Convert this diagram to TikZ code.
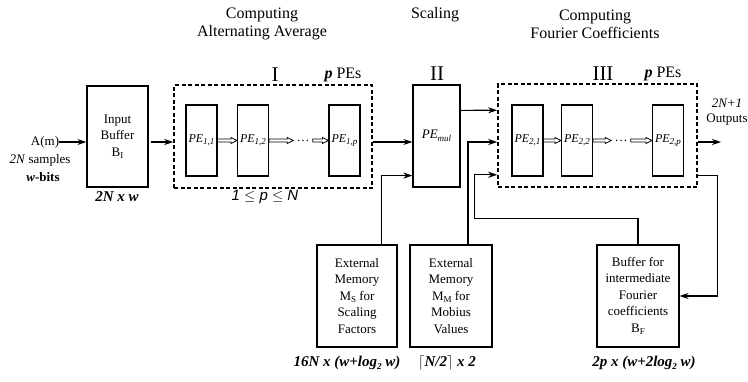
\documentclass[tikz,border=0pt]{standalone}
\usepackage{fontspec}
\setmainfont{Liberation Serif}
\newfontfamily\sansf{Liberation Sans}
\usetikzlibrary{arrows.meta,calc}
\newcommand{\subx}[1]{\raisebox{-2.5pt}{\fontsize{9}{9}\selectfont #1}}
\begin{document}
\begin{tikzpicture}[x=1pt,y=-1pt,
  box/.style={draw,line width=1.2pt,inner sep=0pt,align=center,font=\fontsize{13}{16.5}\selectfont},
  pebox/.style={draw,line width=1.1pt,minimum width=31pt,minimum height=71pt,inner sep=0pt,font=\fontsize{12}{14}\selectfont\itshape},
  dbox/.style={draw,line width=1.5pt,dash pattern=on 4pt off 2.5pt,inner sep=0pt},
  arr/.style={line width=1.2pt,-{Stealth[length=9pt,width=6pt]}},
  hollow/.style={line width=0.8pt,to path={let \p1=(\tikztostart), \p2=(\tikztotarget) in (\x1,\y1+1.5pt) -- (\x2-6pt,\y1+1.5pt) -- (\x2-6pt,\y1+3pt) -- (\x2,\y1) -- (\x2-6pt,\y1-3pt) -- (\x2-6pt,\y1-1.5pt) -- (\x1,\y1-1.5pt) -- cycle}},
  title/.style={font=\fontsize{16}{18}\selectfont,align=center,inner sep=0pt},
  roman/.style={font=\fontsize{21}{21}\selectfont,inner sep=0pt},
  dim/.style={font=\fontsize{15}{15}\selectfont\bfseries\itshape,inner sep=0pt},
  lbl/.style={font=\fontsize{13}{16}\selectfont,align=center,inner sep=0pt}
]
\useasboundingbox (0,0) rectangle (748,381);

% titles
\node[title] (t1) at (262,24) {Computing\\Alternating Average};
\node[title] (t2) at (435,15) {Scaling};
\node[title] (t3) at (595,24) {Computing\\Fourier Coefficients};
\node[roman] (r1) at (275,75) {I};
\node[roman] (r2) at (437,74) {II};
\node[roman] (r3) at (603,74) {III};
\node[title] (pp1) at (343,75) {{\bfseries\itshape p} PEs};
\node[title] (pp2) at (663,74) {{\bfseries\itshape p} PEs};

% input labels
\node[lbl] (am) at (45,142) {A(m)};
\node[lbl] (ns) at (40,160) {\textit{2N} samples};
\node[lbl] (wb) at (43,177) {\bfseries\textit{w}-bits};

% boxes
\node[box,minimum width=61pt,minimum height=101pt] (ib) at (117.5,136.5) {Input\\Buffer\\B\subx{I}};
\node[dbox,minimum width=198pt,minimum height=103pt] (boxI) at (273,136.5) {};
\node[box,minimum width=47pt,minimum height=102pt,font=\fontsize{13}{14}\selectfont] (pemul) at (436.5,136) {\textit{PE}\subx{\textit{mul}}};
\node[dbox,minimum width=199pt,minimum height=103pt] (boxIII) at (597.5,135.5) {};
\node[box,minimum width=80pt,minimum height=102pt] (ms) at (357,296) {External\\Memory\\M\subx{S} for\\Scaling\\Factors};
\node[box,minimum width=82pt,minimum height=102pt] (mm) at (451,296) {External\\Memory\\M\subx{M} for\\Mobius\\Values};
\node[box,minimum width=82pt,minimum height=102pt] (bf) at (638,296) {Buffer for\\intermediate\\Fourier\\coefficients\\B\subx{F}};

% PEs
\node[pebox] (pe11) at (201.5,140.5) {PE\subx{1,1}};
\node[pebox] (pe12) at (253,140.5) {PE\subx{1,2}};
\node[pebox] (pe1p) at (344.5,140.5) {PE\subx{1,p}};
\node[pebox] (pe21) at (527.5,140.5) {PE\subx{2,1}};
\node[pebox] (pe22) at (577,140.5) {PE\subx{2,2}};
\node[pebox] (pe2p) at (668,140.5) {PE\subx{2,p}};
\node[lbl,inner sep=3pt] (d1) at (303,140.5) {\ldots};
\node[lbl,inner sep=3pt] (d2) at (621,140.5) {\ldots};

\draw[hollow] (pe11.east) to (pe12.west);
\draw[hollow] (pe12.east) to (d1.west);
\draw[hollow] (d1.east) to (pe1p.west);
\draw[hollow] (pe21.east) to (pe22.west);
\draw[hollow] (pe22.east) to (d2.west);
\draw[hollow] (d2.east) to (pe2p.west);

% outputs
\node[lbl] (o1) at (727,103) {\textit{2N+1}};
\node[lbl] (o2) at (727,120) {Outputs};
\coordinate (out) at (721,142);

% connectors
\draw[arr] (am.east) -- (ib.west |- am.east);
\draw[arr] ($(ib.east |- am.east)+(2,0)$) -- (boxI.west |- am.east);
\draw[arr] (boxI.east |- am.east) -- (pemul.west |- am.east);
\draw[arr] ($(pemul.north east)+(0,26)$) -- ($(boxIII.north west)+(0,27)$);
\draw[arr] ($(mm.north)+(17,0)$) |- (boxIII.west |- am.east);
\draw[arr] ($(ms.north east)+(-16,0)$) |- ($(pemul.south west)+(0,-12)$);
\draw[arr] (bf.north) -- ++(0,-26) -| ($(boxIII.south west)+(-23,-13)$) -- ($(boxIII.south west)+(0,-13)$);
\draw[arr] ($(boxIII.south east)+(0,-12)$) -- ++(20,0) |- (bf.east);
\draw[arr] (boxIII.east |- am.east) -- (out);

% dimension labels
\node[dim] (l1) at (117,197) {2N x w};
\node[font=\fontsize{15}{15}\selectfont\sansf\itshape,inner sep=0pt] (l2) at (265,197) {1 $\le$ p $\le$ N};
\node[dim] (l3) at (347,363) {16N x (w+log\subx{2} w)};
\node[dim] (l4) at (447,363) {$\lceil$N/2$\rceil$ x 2};
\node[dim] (l5) at (644,363) {2p x (w+2log\subx{2} w)};
\end{tikzpicture}
\end{document}
